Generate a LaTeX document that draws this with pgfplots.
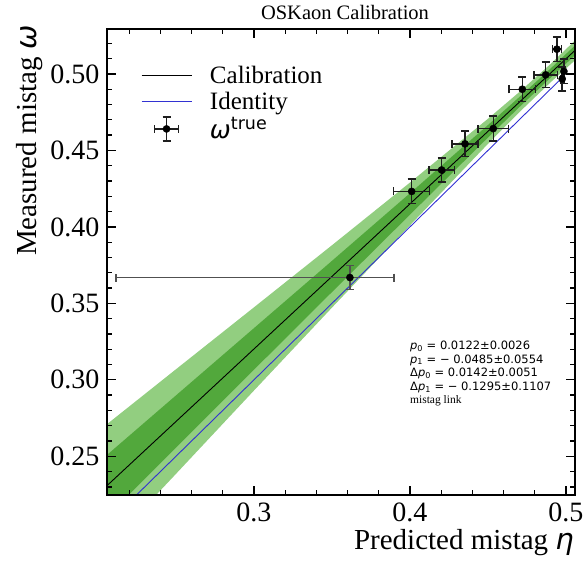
\documentclass[border=0pt]{standalone}
\usepackage{pgfplots}
\pgfplotsset{compat=1.18}
\usepackage{fontspec}
\setmainfont{Liberation Serif}
\newfontfamily\dv{DejaVu Sans}
\definecolor{lgreen}{RGB}{146,206,128}
\definecolor{dgreen}{RGB}{82,168,60}
\definecolor{idblue}{RGB}{50,50,210}
\definecolor{ebar}{RGB}{30,30,30}
\definecolor{gbar}{RGB}{80,80,80}
\newcommand\pv[1]{{\itshape p}\textsubscript{#1}}

\begin{document}
\begin{tikzpicture}
\begin{axis}[
    scale only axis, width=468pt, height=466pt,
    xmin=0.2058, xmax=0.5058, ymin=0.2247, ymax=0.5294,
    xtick={0.3,0.4,0.5}, ytick={0.25,0.30,0.35,0.40,0.45,0.50},
    minor xtick={0.22,0.24,0.26,0.28,0.32,0.34,0.36,0.38,0.42,0.44,0.46,0.48},
    minor ytick={0.23,0.24,0.26,0.27,0.28,0.29,0.31,0.32,0.33,0.34,0.36,0.37,0.38,0.39,0.41,0.42,0.43,0.44,0.46,0.47,0.48,0.49,0.51,0.52},
    tick align=inside, major tick length=9pt, minor tick length=5pt,
    tick style={black, line width=1.3pt},
    axis on top,
    /pgf/number format/assume math mode=true,
    xticklabel style={/pgf/number format/fixed, /pgf/number format/fixed zerofill,
        /pgf/number format/precision=1, yshift=-4pt},
    yticklabel style={/pgf/number format/fixed, /pgf/number format/fixed zerofill,
        /pgf/number format/precision=2, xshift=-4pt},
    tick label style={font=\fontsize{28}{30}\selectfont},
    xlabel={Predicted mistag {\dv\itshape η}},
    ylabel={Measured mistag {\dv\itshape ω}},
    xlabel style={at={(axis description cs:1.005,-0.066)}, anchor=north east,
        font=\fontsize{29}{32}\selectfont},
    ylabel style={at={(axis description cs:-0.13,1.015)}, anchor=south east,
        font=\fontsize{29}{32}\selectfont},
    title={OSKaon Calibration},
    title style={font=\fontsize{20.5}{22}\selectfont, xshift=4pt},
    legend style={draw=none, fill=none, at={(rel axis cs:0.066,0.93)}, anchor=north west,
        font=\fontsize{25}{27}\selectfont, row sep=3pt},
    legend cell align=left,
]

% light band
\addplot[fill=lgreen, draw=none, forget plot] coordinates {
    (0.20,0.2663) (0.25,0.3069) (0.30,0.3474) (0.35,0.3880) (0.40,0.4290)
    (0.45,0.4707) (0.47,0.4881) (0.49,0.5064) (0.51,0.5260)
    (0.51,0.5128) (0.49,0.4944) (0.47,0.4749) (0.45,0.4543) (0.40,0.4010)
    (0.35,0.3472) (0.30,0.2930) (0.25,0.2385) (0.20,0.1843)} -- cycle;
% dark band
\addplot[fill=dgreen, draw=none, forget plot] coordinates {
    (0.20,0.2458) (0.25,0.2898) (0.30,0.3338) (0.35,0.3778) (0.40,0.4220)
    (0.45,0.4666) (0.47,0.4848) (0.49,0.5034) (0.51,0.5227)
    (0.51,0.5161) (0.49,0.4974) (0.47,0.4782) (0.45,0.4584) (0.40,0.4080)
    (0.35,0.3574) (0.30,0.3066) (0.25,0.2556) (0.20,0.2048)} -- cycle;

\addplot[black, line width=0.9pt,
    legend image code/.code={\draw[black, line width=0.9pt] (0pt,0pt) -- (50pt,0pt);
        \path (66pt,0pt);}]
    coordinates {(0.20,0.2253) (0.51,0.5194)};
\addlegendentry{Calibration}
\addplot[idblue, line width=0.9pt,
    legend image code/.code={\draw[idblue, line width=0.9pt] (0pt,0pt) -- (50pt,0pt);
        \path (66pt,0pt);}]
    coordinates {(0.20,0.20) (0.4975,0.4975)};
\addlegendentry{Identity}

\addplot[only marks, mark=*, mark size=3.6pt, black, forget plot,
    error bars/.cd, x dir=both, x explicit, y dir=both, y explicit,
    error mark=|,
    error bar style={line width=1.6pt, gbar},
    error mark options={line width=1.6pt, mark size=4pt, gbar}]
    coordinates {(0.3615,0.3669) += (0.0282,0.0078) -= (0.1500,0.0078)};

\addplot[only marks, mark=*, mark size=3.6pt, black,
    legend image code/.code={
        \draw[ebar, line width=1.5pt] (13pt,0pt) -- (37pt,0pt) (25pt,-12pt) -- (25pt,12pt);
        \draw[ebar, line width=1.5pt] (13pt,-4pt) -- (13pt,4pt) (37pt,-4pt) -- (37pt,4pt)
            (21pt,-12pt) -- (29pt,-12pt) (21pt,12pt) -- (29pt,12pt);
        \fill[black] (25pt,0pt) circle (3.6pt);
        \path (0pt,0pt) (66pt,0pt);},
    error bars/.cd, x dir=both, x explicit, y dir=both, y explicit,
    error mark=|,
    error bar style={line width=1.5pt, ebar},
    error mark options={line width=1.5pt, mark size=4pt, ebar}]
    coordinates {
    (0.4011,0.4232) +- (0.0115,0.0080)
    (0.4203,0.4372) +- (0.0081,0.0080)
    (0.4353,0.4543) +- (0.0082,0.0083)
    (0.4534,0.4643) +- (0.0098,0.0082)
    (0.4720,0.4900) +- (0.0086,0.0080)
    (0.4870,0.4994) +- (0.0075,0.0083)
    (0.4942,0.5162) +- (0.0028,0.0080)
    (0.4976,0.4968) +- (0.0010,0.0078)
    (0.4987,0.5017) +- (0.0005,0.0080)
    };
\addlegendentry{{\dv\itshape ω}\textsuperscript{\dv true}}

% tick marks on all four sides
\pgfplotsinvokeforeach{0.3,0.4,0.5}{
    \draw[black, line width=1.3pt] (axis cs:#1,0.2247) -- ++(0pt,9pt);
    \draw[black, line width=1.3pt] (axis cs:#1,0.5294) -- ++(0pt,-9pt);
}
\pgfplotsinvokeforeach{0.22,0.24,0.26,0.28,0.32,0.34,0.36,0.38,0.42,0.44,0.46,0.48}{
    \draw[black, line width=1.1pt] (axis cs:#1,0.2247) -- ++(0pt,5pt);
    \draw[black, line width=1.1pt] (axis cs:#1,0.5294) -- ++(0pt,-5pt);
}
\pgfplotsinvokeforeach{0.25,0.30,0.35,0.40,0.45,0.50}{
    \draw[black, line width=1.3pt] (axis cs:0.2058,#1) -- ++(9pt,0pt);
    \draw[black, line width=1.3pt] (axis cs:0.5058,#1) -- ++(-9pt,0pt);
}
\pgfplotsinvokeforeach{0.23,0.24,0.26,0.27,0.28,0.29,0.31,0.32,0.33,0.34,0.36,0.37,0.38,0.39,0.41,0.42,0.43,0.44,0.46,0.47,0.48,0.49,0.51,0.52}{
    \draw[black, line width=1.1pt] (axis cs:0.2058,#1) -- ++(5pt,0pt);
    \draw[black, line width=1.1pt] (axis cs:0.5058,#1) -- ++(-5pt,0pt);
}

\node[anchor=north west, align=left, inner sep=0pt, font=\dv\fontsize{11.5}{13.6}\selectfont]
    at (axis cs:0.4,0.3255) {\pv{0} = 0.0122±0.0026\\
    \pv{1} = − 0.0485±0.0554\\
    Δ\pv{0} = 0.0142±0.0051\\
    Δ\pv{1} = − 0.1295±0.1107\\
    {\rmfamily mistag link}};
\end{axis}
\draw[line width=1.6pt] (current axis.south west) rectangle (current axis.north east);
\pgfresetboundingbox
\path[use as bounding box] ([xshift=-107pt,yshift=-65pt]current axis.south west) rectangle ++(588pt,560pt);
\end{tikzpicture}
\end{document}
